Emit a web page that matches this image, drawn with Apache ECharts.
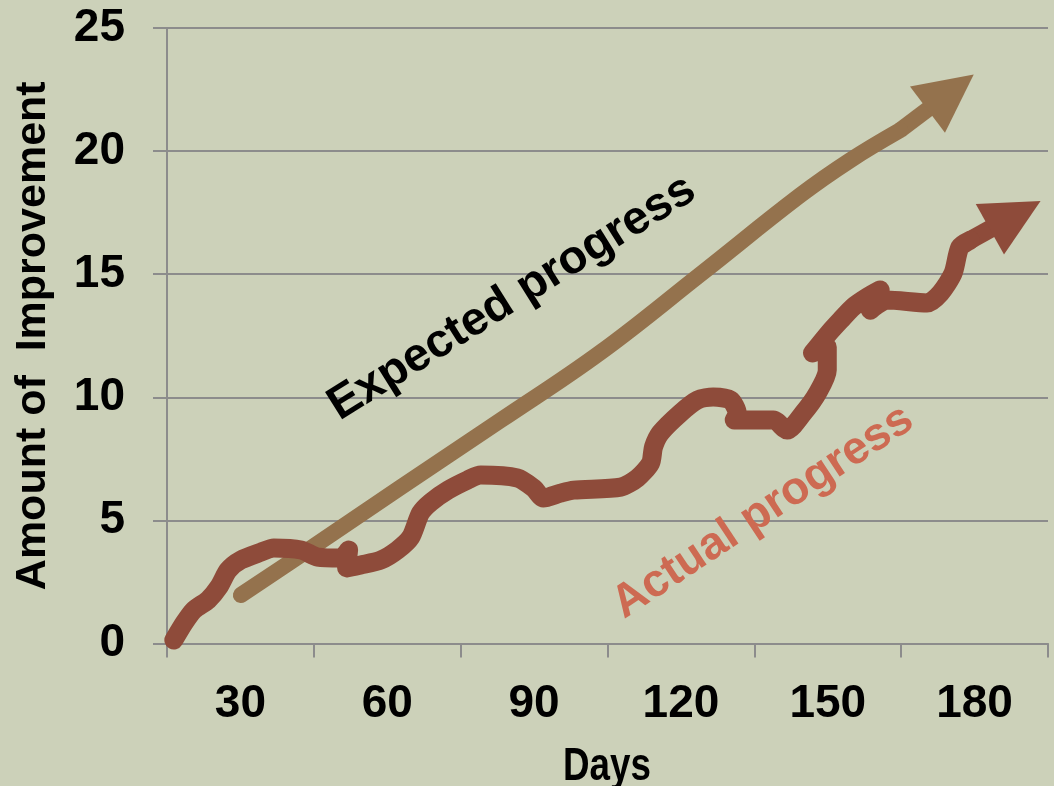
<!DOCTYPE html>
<html>
<head>
<meta charset="utf-8">
<script src="https://cdn.jsdelivr.net/npm/echarts@6/dist/echarts.min.js"></script>
<style>
html,body{margin:0;padding:0;background:#CCD1B9;}
#chart{width:1054px;height:786px;}
</style>
</head>
<body>
<div id="chart"></div>
<script>
// ---- data ----
const dayLabels = ['30', '60', '90', '120', '150', '180'];
const yTicks = [0, 5, 10, 15, 20, 25];

const expectedDays   = [30.1, 42.3, 62.8, 83.2, 103.6, 124.0, 144.4, 154.6, 164.8];
const expectedValues = [1.97, 3.59, 6.35, 9.07, 11.83, 15.0, 18.21, 19.63, 20.85];
const expectedArrowEnd = [175.1, 22.4];

const actualDays = [16.4, 18.5, 20.5, 23.4, 25.6, 27.5, 30.1, 34.2, 36.8, 42.4, 45.8, 50.5, 52.1, 51.7, 54.6, 58.7,
  62.1, 64.8, 66.8, 68.9, 72.4, 76.4, 79.1, 86.6, 89.9, 91.9, 95.4, 98.1, 107.7, 111.1, 113.8, 114.4, 115.8,
  119.9, 123.4, 126.6, 130.1, 131.5, 130.9, 134.8, 138.9, 141.7, 145.0, 147.9, 149.9, 149.9, 146.9, 150.3,
  152.6, 155.2, 158.1, 160.7, 158.7, 162.1, 170.3, 173.0, 175.6, 177.0, 179.1];
const actualValues = [0.14, 0.83, 1.36, 1.77, 2.30, 2.98, 3.39, 3.71, 3.88, 3.80, 3.51, 3.47, 3.80, 3.07, 3.19, 3.39,
  3.80, 4.32, 5.30, 5.74, 6.23, 6.64, 6.84, 6.72, 6.31, 5.91, 6.11, 6.23, 6.35, 6.72, 7.33, 7.98, 8.55,
  9.36, 9.89, 10.01, 9.89, 9.36, 9.08, 9.08, 9.08, 8.67, 9.36, 10.17, 11.10, 12.04, 11.80, 12.63,
  13.13, 13.67, 14.07, 14.36, 13.54, 13.95, 13.83, 14.23, 15.04, 16.10, 16.38];
const actualArrowEnd = [188.3, 17.4];

const expectedLabel = 'Expected progress';
const actualLabel = 'Actual progress';
const xTitle = 'Days';
const yTitle = 'Amount of  Improvement';

// ---- styles ----
const BG = '#CCD1B9';
const GRID = '#8C8C8C';
const EXP_COLOR = '#94724D';
const ACT_COLOR = '#8E4B3A';
const ACT_TEXT = '#CD6A52';
const FONT = '"Liberation Sans", Arial, sans-serif';

function pairs(xs, ys) { return xs.map((x, i) => [x, ys[i]]); }
const expData = pairs(expectedDays, expectedValues);
const actData = pairs(actualDays, actualValues);

const chart = echarts.init(document.getElementById('chart'), null, {renderer: 'canvas'});
chart.setOption({
  backgroundColor: BG,
  animation: false,
  grid: {left: 167, right: 6, top: 28, bottom: 142.5, containLabel: false},
  xAxis: [
    {
      type: 'category', data: dayLabels, boundaryGap: true,
      axisLine: {show: true, lineStyle: {color: GRID, width: 2}},
      axisTick: {show: true, length: 14, lineStyle: {color: GRID, width: 2}},
      axisLabel: {fontFamily: FONT, fontWeight: 'bold', fontSize: 46, color: '#000', margin: 38},
      splitLine: {show: false}
    },
    {type: 'value', min: 15, max: 195, show: false}
  ],
  yAxis: {
    type: 'value', min: 0, max: 25, interval: 5,
    name: yTitle, nameLocation: 'middle', nameGap: 112, nameRotate: 90,
    nameTextStyle: {fontFamily: FONT, fontWeight: 'bold', fontSize: 43, color: '#000'},
    axisLine: {show: true, lineStyle: {color: GRID, width: 2}},
    axisTick: {show: true, length: 14, lineStyle: {color: GRID, width: 2}},
    axisLabel: {fontFamily: FONT, fontWeight: 'bold', fontSize: 46, color: '#000', margin: 42,
      formatter: v => (yTicks.indexOf(v) >= 0 ? String(v) : '')},
    splitLine: {show: true, lineStyle: {color: GRID, width: 2}}
  },
  series: [
    {
      type: 'line', xAxisIndex: 1, data: expData, smooth: 0.4, showSymbol: false, symbol: 'none',
      lineStyle: {color: EXP_COLOR, width: 16, cap: 'round', join: 'round'}, z: 3
    },
    {
      type: 'lines', coordinateSystem: 'cartesian2d', xAxisIndex: 1,
      symbol: ['none', 'triangle'], symbolSize: 58,
      lineStyle: {color: EXP_COLOR, width: 16, opacity: 1, curveness: 0},
      itemStyle: {color: EXP_COLOR},
      data: [{coords: [expData[expData.length - 1], expectedArrowEnd]}], z: 3
    },
    {
      type: 'line', xAxisIndex: 1, data: actData, smooth: 0.25, showSymbol: false, symbol: 'none',
      lineStyle: {color: ACT_COLOR, width: 19, cap: 'round', join: 'round'}, z: 4
    },
    {
      type: 'lines', coordinateSystem: 'cartesian2d', xAxisIndex: 1,
      symbol: ['none', 'triangle'], symbolSize: 58,
      lineStyle: {color: ACT_COLOR, width: 18, opacity: 1, curveness: 0},
      itemStyle: {color: ACT_COLOR},
      data: [{coords: [actData[actData.length - 1], actualArrowEnd]}], z: 4
    }
  ],
  graphic: [
    {type: 'text', x: 512, y: 298, rotation: 32 * Math.PI / 180, z: 10,
      style: {text: expectedLabel, fontFamily: FONT, fontWeight: 'bold', fontSize: 47, fill: '#000', align: 'center', verticalAlign: 'middle'}},
    {type: 'text', x: 763, y: 512, rotation: 33.5 * Math.PI / 180, z: 10,
      style: {text: actualLabel, fontFamily: FONT, fontWeight: 'bold', fontSize: 46, fill: ACT_TEXT, align: 'center', verticalAlign: 'middle'}},
    {type: 'text', x: 607, y: 767, scaleX: 0.8, z: 10,
      style: {text: xTitle, fontFamily: FONT, fontWeight: 'bold', fontSize: 46, fill: '#000', align: 'center', verticalAlign: 'middle'}}
  ]
});
</script>
</body>
</html>
